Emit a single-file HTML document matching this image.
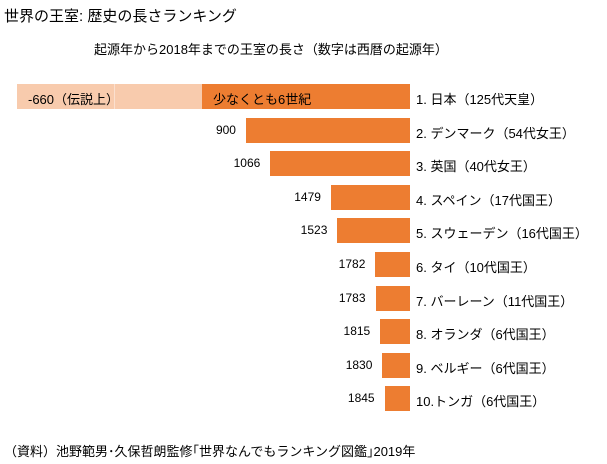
<!DOCTYPE html>
<html><head><meta charset="utf-8"><style>
body{margin:0;background:#fff;width:607px;height:464px;position:relative;overflow:hidden;font-family:"Liberation Sans","Noto Sans CJK JP",sans-serif;color:#000}
div{position:absolute;white-space:nowrap}
.b{background:#ED7D31;height:25px}
.v{font-size:12px;text-align:right;width:60px}
.r{font-size:13px;left:416px}
</style></head><body>
<div style="left:4px;top:5px;font-size:15px">世界の王室: 歴史の長さランキング</div>
<div style="left:94px;top:39px;font-size:13px">起源年から2018年までの王室の長さ（数字は西暦の起源年）</div>
<div style="left:17px;top:84px;width:185px;height:25px;background:#F8CBAD"></div>
<div style="left:114px;top:84px;width:1px;height:25px;background:#fbe0cf"></div>
<div class="b" style="left:202px;top:84px;width:208px"></div>
<div style="left:28px;top:89px;font-size:13px">-660（伝説上）</div>
<div style="left:213px;top:89px;font-size:13px">少なくとも6世紀</div>
<div class="r" style="top:89px">1. 日本（125代天皇）</div>
<script>
var d=[[900,"2. デンマーク（54代女王）"],[1066,"3. 英国（40代女王）"],[1479,"4. スペイン（17代国王）"],[1523,"5. スウェーデン（16代国王）"],[1782,"6. タイ（10代国王）"],[1783,"7. バーレーン（11代国王）"],[1815,"8. オランダ（6代国王）"],[1830,"9. ベルギー（6代国王）"],[1845,"10.トンガ（6代国王）"]];
var h="";
d.forEach(function(e,i){var y=84+(i+1)*33.6;var x=410-(2018-e[0])*0.1467;
h+='<div class="b" style="left:'+x+'px;top:'+y+'px;width:'+(410-x)+'px"></div>';
h+='<div class="v" style="left:'+(x-70)+'px;top:'+(y+5)+'px">'+e[0]+'</div>';
h+='<div class="r" style="top:'+(y+5)+'px">'+e[1]+'</div>';});
document.write(h);
</script>
<div style="left:4px;top:441px;font-size:13px">（資料）池野範男･久保哲朗監修｢世界なんでもランキング図鑑｣2019年</div>
</body></html>
